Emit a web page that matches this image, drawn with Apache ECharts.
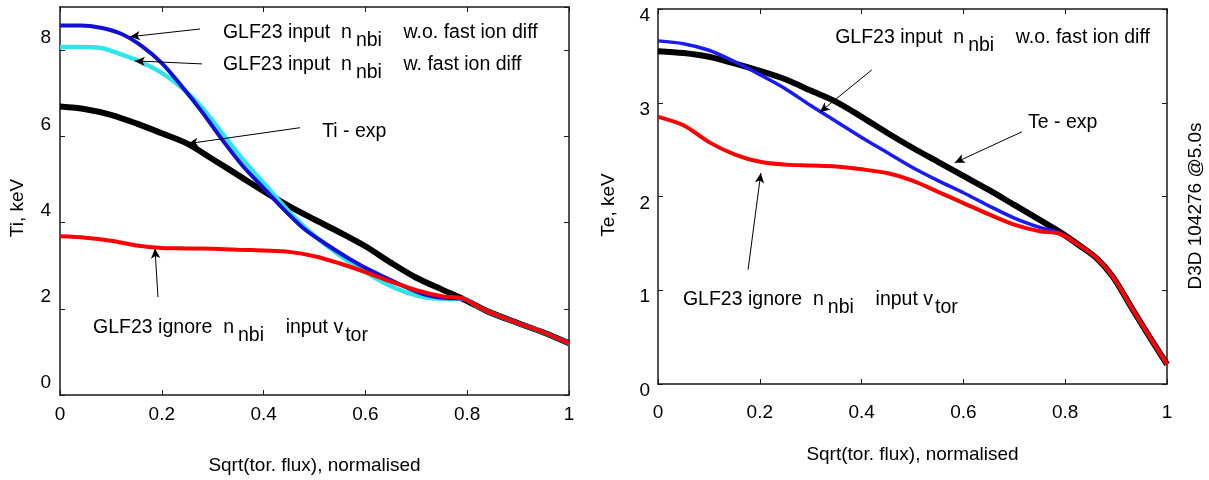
<!DOCTYPE html>
<html>
<head>
<meta charset="utf-8">
<script src="https://cdn.jsdelivr.net/npm/echarts@6/dist/echarts.min.js"></script>
<style>
  html, body { margin: 0; padding: 0; background: #fff; }
  #chart { width: 1209px; height: 480px; }
</style>
</head>
<body>
<div id="chart"></div>
<script>
// ---- data ----
// Ti panel
const tiCoreX   = [0, 0.05, 0.1, 0.15, 0.2, 0.25, 0.3, 0.35, 0.4, 0.45, 0.5, 0.55, 0.6, 0.65, 0.7, 0.75, 0.79];
const tiExp     = [6.69, 6.63, 6.5, 6.3, 6.07, 5.83, 5.47, 5.1, 4.73, 4.38, 4.07, 3.77, 3.45, 3.07, 2.72, 2.45, 2.24];
const tiIgnore  = [3.68, 3.65, 3.58, 3.47, 3.41, 3.40, 3.39, 3.37, 3.35, 3.32, 3.22, 3.05, 2.85, 2.63, 2.43, 2.29, 2.24];
const tiGlfX    = [0, 0.04, 0.08, 0.12, 0.16, 0.2, 0.24, 0.28, 0.32, 0.36, 0.4, 0.44, 0.48, 0.52, 0.56, 0.6, 0.64, 0.68, 0.72, 0.76, 0.79];
const tiNoDiff  = [8.57, 8.57, 8.52, 8.38, 8.1, 7.7, 7.15, 6.55, 5.9, 5.3, 4.8, 4.3, 3.85, 3.52, 3.22, 2.95, 2.72, 2.5, 2.32, 2.25, 2.24];
const tiDiff    = [8.07, 8.07, 8.05, 7.9, 7.72, 7.47, 7.12, 6.65, 6.05, 5.45, 4.92, 4.38, 3.9, 3.5, 3.15, 2.85, 2.58, 2.38, 2.26, 2.23, 2.24];
const tiEdgeX   = [0.82, 0.84, 0.89, 0.95, 1.0];
const tiEdge    = [2.06, 1.94, 1.71, 1.45, 1.2];

// Te panel
const teCoreX   = [0, 0.05, 0.1, 0.15, 0.2, 0.25, 0.3, 0.35, 0.4, 0.45, 0.5, 0.55, 0.6, 0.65, 0.7, 0.75, 0.79];
const teExp     = [3.55, 3.53, 3.49, 3.42, 3.34, 3.25, 3.13, 3.01, 2.85, 2.68, 2.52, 2.37, 2.22, 2.07, 1.91, 1.75, 1.62];
const teNoDiff  = [3.66, 3.63, 3.56, 3.44, 3.30, 3.15, 2.97, 2.80, 2.63, 2.47, 2.31, 2.17, 2.04, 1.90, 1.77, 1.67, 1.61];
const teIgnore  = [2.85, 2.76, 2.58, 2.45, 2.37, 2.34, 2.33, 2.32, 2.29, 2.25, 2.17, 2.05, 1.93, 1.81, 1.70, 1.63, 1.60];
const teEdgeX   = [0.83, 0.862, 0.894, 0.933, 0.966, 1.0];
const teEdge    = [1.47, 1.34, 1.14, 0.79, 0.5, 0.21];

const xTicks    = [0, 0.2, 0.4, 0.6, 0.8, 1];
const tiTicks   = [0, 2, 4, 6, 8];
const teTicks   = [0, 1, 2, 3, 4];

const FONT = 'Liberation Sans, Arial, Helvetica, sans-serif';

function pairs(xs, ys, ex, ey) {
  const out = xs.map((x, i) => [x, ys[i]]);
  return out.concat(ex.map((x, i) => [x, ey[i]]));
}

const chart = echarts.init(document.getElementById('chart'), null, { renderer: 'canvas' });

const axisCol = '#1a1a1a';
function xAx(grid, pos, nameGap, labelMargin) {
  const main = pos === 'bottom';
  return {
    type: 'value', gridIndex: grid, position: pos, min: 0, max: 1, interval: 0.2,
    name: main ? 'Sqrt(tor. flux), normalised' : '', nameLocation: 'middle', nameGap: nameGap,
    nameTextStyle: { fontSize: 19, color: '#000', fontFamily: FONT },
    axisLine: { show: true, onZero: false, lineStyle: { color: axisCol, width: 1.5 } },
    axisTick: { show: true, inside: true, length: 5, lineStyle: { color: axisCol, width: 1 } },
    axisLabel: { show: main, fontSize: 19, color: '#000', fontFamily: FONT, margin: labelMargin },
    splitLine: { show: false }
  };
}
function yAx(grid, pos, max, interval, extra) {
  const main = pos === 'left';
  return Object.assign({
    type: 'value', gridIndex: grid, position: pos, min: 0, max: max, interval: interval,
    nameLocation: 'middle',
    axisLine: { show: true, onZero: false, lineStyle: { color: axisCol, width: 1.5 } },
    axisTick: { show: true, inside: true, length: 5, lineStyle: { color: axisCol, width: 1 } },
    splitLine: { show: false }
  }, main ? extra : { axisLabel: { show: false } });
}

const arrowBase = {
  silent: true, symbol: ['none', 'arrow'], symbolSize: [7, 10], animation: false,
  lineStyle: { color: '#000', width: 1, type: 'solid' }, label: { show: false },
  emphasis: { disabled: true }
};

const option = {
  animation: false,
  backgroundColor: '#fff',
  grid: [
    { left: 60, top: 7, width: 509, height: 389 },
    { left: 658, top: 9, width: 509, height: 375 }
  ],
  xAxis: [
    xAx(0, 'bottom', 61, 10),
    xAx(0, 'top', 0, 0),
    xAx(1, 'bottom', 61, 19),
    xAx(1, 'top', 0, 0)
  ],
  yAxis: [
    yAx(0, 'left', 9, 2, {
      name: 'Ti, keV', nameGap: 33,
      nameTextStyle: { fontSize: 19, color: '#000', fontFamily: FONT, padding: [0, 14, 0, 0] },
      axisLabel: { fontSize: 19, color: '#000', fontFamily: FONT, margin: 9, verticalAlign: 'bottom', lineHeight: 24, showMaxLabel: false }
    }),
    yAx(0, 'right', 9, 2),
    yAx(1, 'left', 4, 1, {
      name: 'Te, keV', nameGap: 40,
      nameTextStyle: { fontSize: 19, color: '#000', fontFamily: FONT, padding: [0, 17, 0, 0] },
      axisLabel: { fontSize: 19, color: '#000', fontFamily: FONT, margin: 8, verticalAlign: 'top', lineHeight: 14 }
    }),
    yAx(1, 'right', 4, 1)
  ],
  series: [
    {
      type: 'line', xAxisIndex: 0, yAxisIndex: 0, showSymbol: false, smooth: 0.3,
      data: pairs(tiCoreX, tiExp, tiEdgeX, tiEdge),
      lineStyle: { color: '#000', width: 6 }, z: 2,
      markLine: Object.assign({}, arrowBase, {
        data: [
          [{ coord: [0.275, 8.49] }, { coord: [0.1375, 8.31] }],
          [{ coord: [0.279, 7.68] }, { coord: [0.147, 7.75] }],
          [{ coord: [0.4715, 6.20] }, { coord: [0.2515, 5.83] }],
          [{ coord: [0.1925, 2.27] }, { coord: [0.1866, 3.40] }]
        ]
      })
    },
    {
      type: 'line', xAxisIndex: 0, yAxisIndex: 0, showSymbol: false, smooth: 0.3,
      data: pairs(tiGlfX, tiDiff, tiEdgeX, tiEdge),
      lineStyle: { color: '#33e3ea', width: 4.5 }, z: 3
    },
    {
      type: 'line', xAxisIndex: 0, yAxisIndex: 0, showSymbol: false, smooth: 0.3,
      data: pairs(tiGlfX, tiNoDiff, tiEdgeX, tiEdge),
      lineStyle: { color: '#1010d4', width: 4 }, z: 4
    },
    {
      type: 'line', xAxisIndex: 0, yAxisIndex: 0, showSymbol: false, smooth: 0.3,
      data: pairs(tiCoreX, tiIgnore, tiEdgeX, tiEdge),
      lineStyle: { color: '#ff0000', width: 4 }, z: 5
    },
    {
      type: 'line', xAxisIndex: 2, yAxisIndex: 2, showSymbol: false, smooth: 0.3,
      data: pairs(teCoreX, teExp, teEdgeX, teEdge),
      lineStyle: { color: '#000', width: 6 }, z: 2,
      markLine: Object.assign({}, arrowBase, {
        data: [
          [{ coord: [0.420, 3.35] }, { coord: [0.318, 2.90] }],
          [{ coord: [0.715, 2.69] }, { coord: [0.583, 2.36] }],
          [{ coord: [0.177, 1.22] }, { coord: [0.202, 2.25] }]
        ]
      })
    },
    {
      type: 'line', xAxisIndex: 2, yAxisIndex: 2, showSymbol: false, smooth: 0.3,
      data: pairs(teCoreX, teNoDiff, teEdgeX, teEdge),
      lineStyle: { color: '#1a1af5', width: 3.5 }, z: 3
    },
    {
      type: 'line', xAxisIndex: 2, yAxisIndex: 2, showSymbol: false, smooth: 0.3,
      data: pairs(teCoreX, teIgnore, teEdgeX, teEdge),
      lineStyle: { color: '#ff0000', width: 4 }, z: 4
    }
  ]
};

chart.setOption(option);

// ---- text annotations, anchored in data coordinates ----
const rich = {
  a: { fontSize: 19.5, fontFamily: FONT, fill: '#000', verticalAlign: 'middle' },
  s: { fontSize: 19.5, fontFamily: FONT, fill: '#000', verticalAlign: 'middle', padding: [16, 0, 0, 4] },
  t: { fontSize: 19.5, fontFamily: FONT, fill: '#000', verticalAlign: 'middle', padding: [16, 0, 0, 2] }
};
const notes = [
  [0, [0.320, 8.40], '{a|GLF23 input  n}{s|nbi}{a|    w.o. fast ion diff}'],
  [0, [0.320, 7.66], '{a|GLF23 input  n}{s|nbi}{a|    w. fast ion diff}'],
  [0, [0.515, 6.11], '{a|Ti - exp}'],
  [0, [0.065, 1.57], '{a|GLF23 ignore  n}{s|nbi}{a|    input v}{t|tor}'],
  [1, [0.348, 3.69], '{a|GLF23 input  n}{s|nbi}{a|    w.o. fast ion diff}'],
  [1, [0.727, 2.79], '{a|Te - exp}'],
  [1, [0.049, 0.90], '{a|GLF23 ignore  n}{s|nbi}{a|    input v}{t|tor}']
];
const graphic = notes.map(n => {
  const p = chart.convertToPixel({ gridIndex: n[0] }, n[1]);
  return {
    type: 'text', x: p[0], y: p[1], silent: true,
    style: { text: n[2], rich: rich, align: 'left', verticalAlign: 'middle' }
  };
});
graphic.push({
  type: 'text', x: 1196, y: 206, rotation: Math.PI / 2, silent: true,
  style: { text: 'D3D 104276 @5.0s', fontSize: 19, fontFamily: FONT, fill: '#000', align: 'center', verticalAlign: 'middle' }
});
chart.setOption({ graphic: graphic });
</script>
</body>
</html>
